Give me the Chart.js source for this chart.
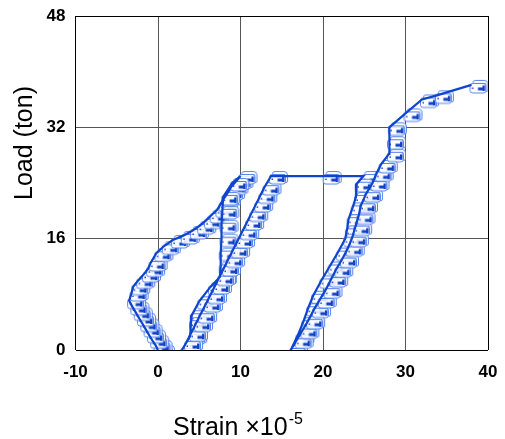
<!DOCTYPE html>
<html>
<head>
<meta charset="utf-8">
<script src="https://cdn.jsdelivr.net/npm/chart.js@4/dist/chart.umd.min.js"></script>
<style>
  html, body { margin: 0; padding: 0; background: #fff; }
  #wrap { width: 505px; height: 439px; }
</style>
</head>
<body>
<div id="wrap"><canvas id="c" width="505" height="439"></canvas></div>
<script>
// Strain-gauge readings (x10^-5) against applied load (ton), in test order.
const load1Strain = [0, -0.3, -0.7, -1.1, -1.5, -1.9, -2.3, -2.7, -3.1, -3.5, -3.2, -3.0, -2.4, -1.7, -1.2, -0.9, -0.2, 0.7, 1.8, 3.0, 4.1, 5.0, 5.8, 6.5, 7.2, 7.6, 8.0, 8.5, 8.9, 9.5, 10.0];
const load1Load   = [0, 0.7, 1.4, 2.2, 3.0, 3.8, 4.6, 5.4, 6.2, 7.1, 8.2, 9.1, 10.0, 10.9, 11.7, 12.5, 13.9, 14.9, 15.8, 16.4, 17.1, 17.8, 18.6, 19.4, 20.2, 21.0, 21.8, 22.7, 23.5, 24.3, 25.0];

const unload1Strain = [9.0, 7.9, 7.8, 7.7, 7.7, 7.6, 7.6, 7.5, 6.3, 5.0, 4.1, 4.0, 3.9, 2.9];
const unload1Load   = [24.0, 22.0, 20.0, 18.0, 16.0, 14.0, 12.0, 10.5, 9.0, 7.0, 5.0, 4.0, 2.0, 0];

const load2Strain = [3.4, 4.0, 4.6, 5.1, 5.8, 6.3, 6.9, 7.4, 8.0, 8.5, 9.1, 9.7, 10.2, 10.8, 11.3, 11.9, 12.4, 12.9, 13.7, 20.2, 24.9];
const load2Load   = [1.0, 2.4, 3.8, 5.0, 6.6, 7.8, 9.2, 10.4, 11.8, 13.0, 14.4, 15.8, 17.0, 18.4, 19.6, 21.0, 22.2, 23.4, 25.0, 25.0, 25.0];

const unload2Strain = [24.1, 24.0, 23.6, 23.1, 22.9, 22.7, 21.8, 20.8, 19.8, 18.8, 18.2, 17.6, 16.9, 16.1];
const unload2Load   = [23.9, 22.0, 20.5, 18.8, 17.2, 16.0, 14.0, 12.0, 10.0, 7.8, 6.0, 4.0, 2.0, 0];

const load3Strain = [16.8, 17.5, 18.2, 18.9, 19.6, 20.3, 21.0, 21.6, 22.3, 23.0, 23.5, 23.9, 24.3, 24.6, 25.2, 26.0, 26.5, 27.0, 28.0, 28.0, 28.1, 30.0, 32.0, 33.8, 38.0];
const load3Load   = [1.4, 2.8, 4.2, 5.8, 7.2, 8.6, 10.2, 11.6, 13.0, 14.6, 16.0, 17.6, 19.2, 20.8, 22.4, 24.0, 25.4, 26.6, 28.2, 30.0, 32.0, 34.0, 36.0, 36.6, 38.1];

const xTicks = [-10, 0, 10, 20, 30, 40];
const yTicks = [0, 16, 32, 48];

const strain = [].concat(load1Strain, unload1Strain, load2Strain, unload2Strain, load3Strain);
const loads  = [].concat(load1Load, unload1Load, load2Load, unload2Load, load3Load);
const points = strain.map((s, i) => ({ x: s, y: loads[i] }));

// Gauge-shaped marker, drawn offset to the right of the reading.
function rrect(g, x, y, w, h, r) {
  g.beginPath();
  g.moveTo(x + r, y);
  g.lineTo(x + w - r, y);
  g.quadraticCurveTo(x + w, y, x + w, y + r);
  g.lineTo(x + w, y + h - r);
  g.quadraticCurveTo(x + w, y + h, x + w - r, y + h);
  g.lineTo(x + r, y + h);
  g.quadraticCurveTo(x, y + h, x, y + h - r);
  g.lineTo(x, y + r);
  g.quadraticCurveTo(x, y, x + r, y);
  g.closePath();
}
function makeMarker() {
  const c = document.createElement('canvas');
  c.width = 40; c.height = 30;
  const g = c.getContext('2d');
  // reading sits at (20, 15)
  g.lineWidth = 1;
  g.strokeStyle = 'rgba(70,120,235,0.9)';
  g.fillStyle = 'rgba(255,255,255,0.85)';
  // raised back tab
  g.beginPath();
  g.moveTo(21.5, 13.5);
  g.lineTo(21.5, 12.5);
  g.quadraticCurveTo(21.5, 10.5, 24, 10.5);
  g.lineTo(33, 10.5);
  g.quadraticCurveTo(36.5, 10.5, 36.5, 14);
  g.lineTo(36.5, 20);
  g.quadraticCurveTo(36.5, 21.5, 35, 21.5);
  g.lineTo(34, 21.5);
  g.lineTo(34, 13.5);
  g.closePath();
  g.fill();
  g.stroke();
  // front body
  rrect(g, 18.5, 13.5, 16, 9.5, 2.5);
  g.fill();
  g.stroke();
  // gauge element
  g.fillStyle = '#1242c4';
  g.fillRect(26.5, 17.5, 6, 3);
  g.fillRect(31, 15.5, 2.5, 5.5);
  g.fillRect(20.5, 17.5, 1.5, 1.5);
  return c;
}
const marker = makeMarker();

const titles = {
  id: 'axisTitles',
  afterDraw(chart) {
    const ctx = chart.ctx;
    ctx.save();
    ctx.fillStyle = '#000';
    ctx.font = '25px "Liberation Sans", Arial, sans-serif';
    ctx.textBaseline = 'alphabetic';
    ctx.save();
    ctx.translate(32, 143);
    ctx.rotate(-Math.PI / 2);
    ctx.textAlign = 'center';
    ctx.fillText('Load (ton)', 0, 0);
    ctx.restore();
    ctx.textAlign = 'left';
    const base = 'Strain \u00d710';
    ctx.fillText(base, 173, 435);
    const w = ctx.measureText(base).width;
    ctx.font = '16px "Liberation Sans", Arial, sans-serif';
    ctx.fillText('-5', 173 + w + 1, 424);
    ctx.restore();
  }
};

const edge = (v, lo, hi) => (v === lo || v === hi);

new Chart(document.getElementById('c'), {
  type: 'line',
  data: {
    datasets: [
      {
        // connecting path, drawn above the markers
        data: points,
        order: 0,
        borderColor: '#0f44cc',
        borderWidth: 2.2,
        pointRadius: 0,
        tension: 0,
        fill: false
      },
      {
        // gauge markers at each reading
        data: points,
        order: 1,
        showLine: false,
        pointStyle: marker,
        pointRadius: 6
      }
    ]
  },
  options: {
    responsive: false,
    animation: false,
    layout: { autoPadding: false, padding: { left: 0, right: 17, top: 16, bottom: 0 } },
    plugins: { legend: { display: false }, tooltip: { enabled: false } },
    scales: {
      x: {
        type: 'linear', min: -10, max: 40,
        afterBuildTicks: s => { s.ticks = xTicks.map(v => ({ value: v })); },
        afterFit: s => { s.height = 89; s.paddingLeft = 0; s.paddingRight = 0; },
        grid: {
          drawTicks: false,
          color: ctx => edge(ctx.tick && ctx.tick.value, -10, 40) ? '#000' : '#555',
          lineWidth: 1
        },
        border: { display: false },
        ticks: {
          padding: 12,
          color: '#000',
          font: { family: '"Liberation Sans", Arial, sans-serif', size: 17, weight: 'bold' },
          maxRotation: 0
        }
      },
      y: {
        type: 'linear', min: 0, max: 48,
        afterBuildTicks: s => { s.ticks = yTicks.map(v => ({ value: v })); },
        afterFit: s => { s.width = 75.5; s.paddingTop = 0; s.paddingBottom = 0; },
        grid: {
          drawTicks: false,
          color: ctx => edge(ctx.tick && ctx.tick.value, 0, 48) ? '#000' : '#555',
          lineWidth: 1
        },
        border: { display: false },
        ticks: {
          padding: 10,
          color: '#000',
          font: { family: '"Liberation Sans", Arial, sans-serif', size: 17, weight: 'bold' }
        }
      }
    }
  },
  plugins: [titles]
});
</script>
</body>
</html>
